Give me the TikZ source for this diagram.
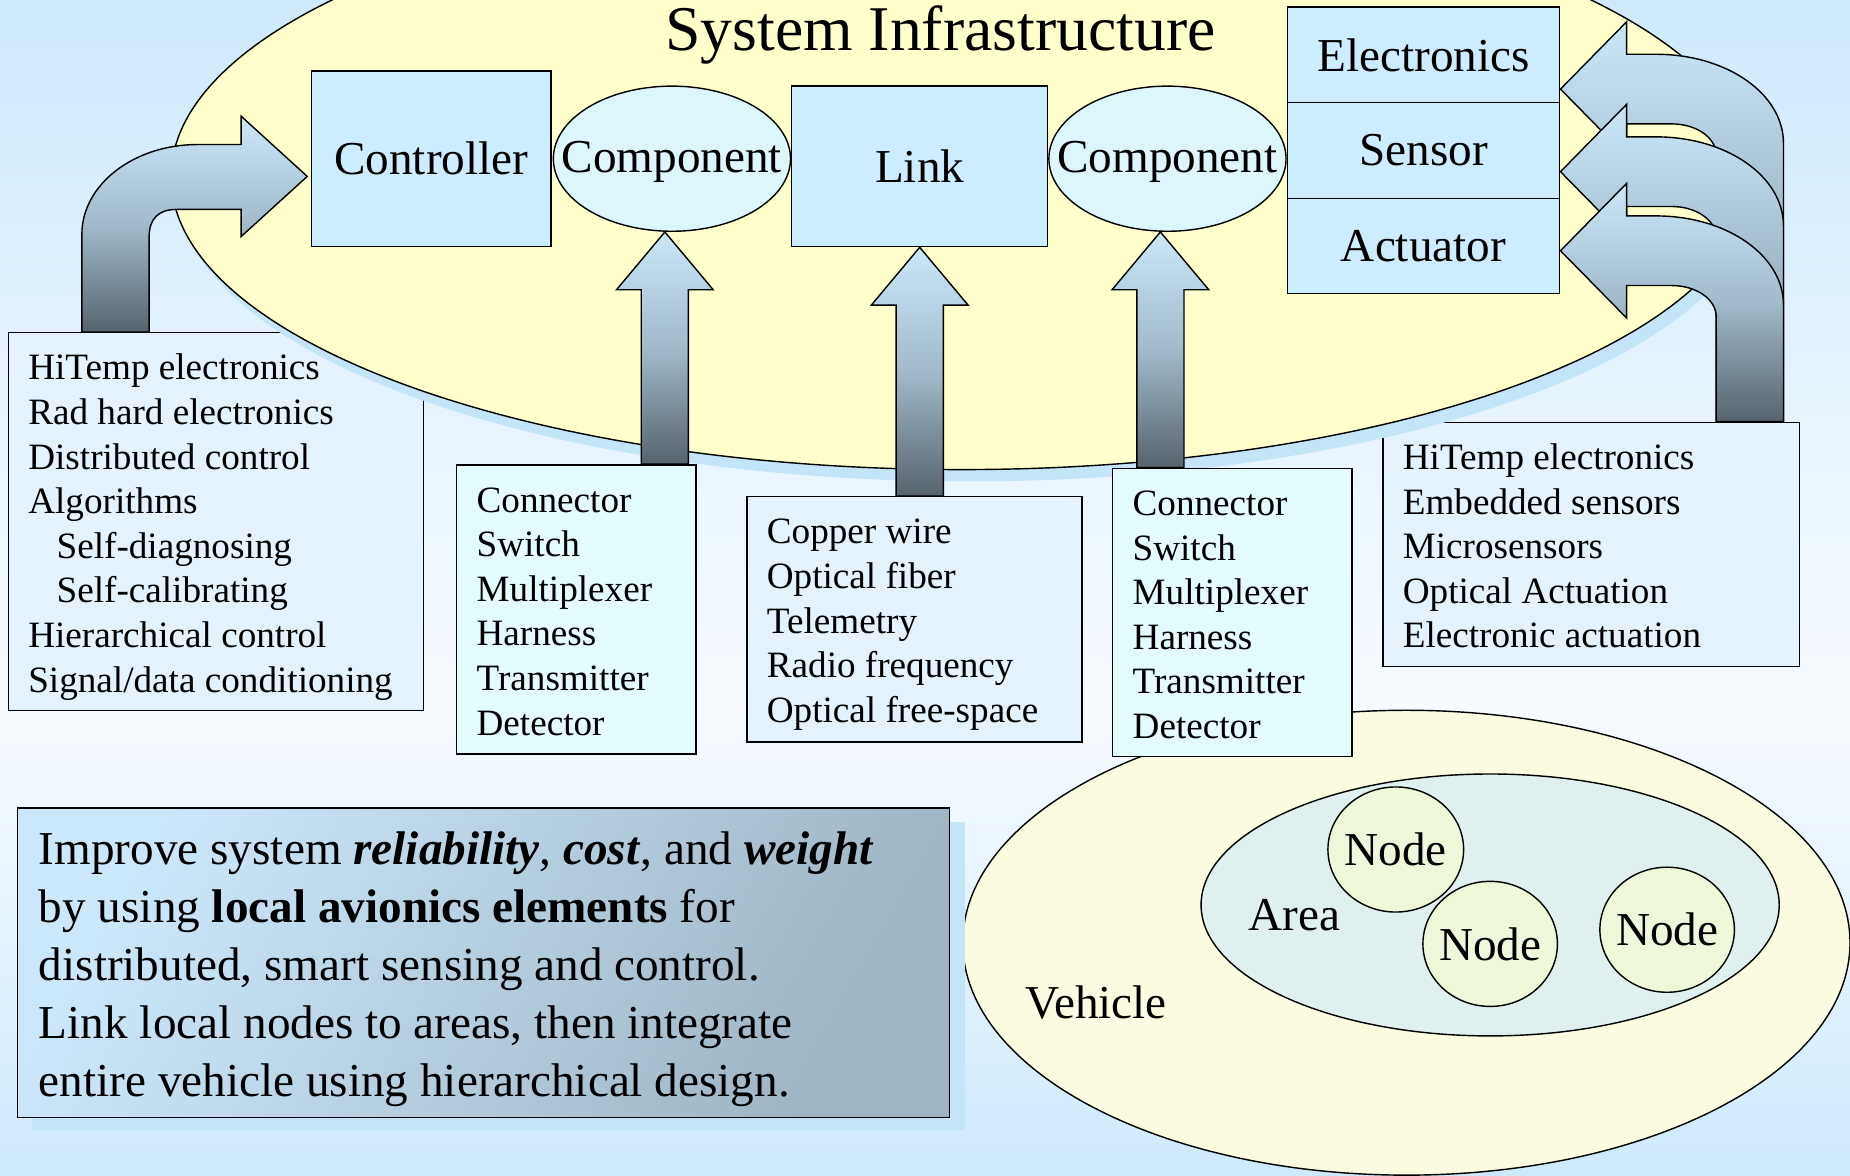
\documentclass[tikz,border=0pt]{standalone}
\usepackage{fontspec}
\setmainfont{Liberation Serif}
\usetikzlibrary{shapes.geometric,calc}

\definecolor{bgblue}{HTML}{CFE9FB}
\definecolor{bgwhite}{HTML}{F7FBFF}
\definecolor{ellyellow}{HTML}{FFFFCC}
\definecolor{shadowblue}{HTML}{C4E4F8}
\definecolor{boxblue}{HTML}{CCECFF}
\definecolor{compcyan}{HTML}{DDF6FC}
\definecolor{listblue}{HTML}{E3F2FD}
\definecolor{listcyan}{HTML}{E3FBFC}
\definecolor{arrtop}{HTML}{CBE7F9}
\definecolor{arrmid}{HTML}{A2BACA}
\definecolor{arrbot}{HTML}{56636D}
\definecolor{vehfill}{HTML}{FAFBE1}
\definecolor{areafill}{HTML}{E0F0EE}
\definecolor{nodefill}{HTML}{EFF7DA}
\definecolor{goallight}{HTML}{CBE8FA}
\definecolor{goaldark}{HTML}{9FB4C3}

\tikzset{
  bigtxt/.style={font=\fontsize{40}{48}\selectfont},
  plainbox/.style={draw, rectangle, inner sep=0pt, fill=boxblue},
  ellnode/.style={draw, ellipse, inner sep=0pt},
  listbox/.style={draw, rectangle, inner sep=0pt},
  lst/.style={anchor=north west, inner sep=0pt, align=left, font=\fontsize{31.5}{37.8}\selectfont},
  goaltxt/.style={anchor=north west, inner sep=0pt, align=left, font=\fontsize{40}{49}\selectfont},
  blockarr/.style={draw, top color=arrtop, bottom color=arrbot, middle color=arrmid},
}

\newcommand{\uparrowshape}[2]{%
  \draw[blockarr] (#1) -- ($(#1)+(41,49)$) -- ($(#1)+(20,49)$) -- ($(#1|-#2)+(20,0)$)
    -- ($(#1|-#2)+(-20,0)$) -- ($(#1)+(-20,49)$) -- ($(#1)+(-41,49)$) -- cycle;}

\newcommand{\rbentarrow}[2]{%
  \draw[blockarr] (#1) -- ($(#1)+(56,-57)$) -- ($(#1)+(56,-29.5)$) -- ($(#1)+(81,-29.5)$)
    .. controls ($(#1)+(141,-29.5)$) and ($(#1)+(189,4)$) .. ($(#1)+(189,46)$)
    -- ($(#1|-#2)+(189,0)$) -- ($(#1|-#2)+(132,0)$) -- ($(#1)+(132,56)$)
    .. controls ($(#1)+(132,41)$) and ($(#1)+(115,29.5)$) .. ($(#1)+(94,29.5)$)
    -- ($(#1)+(56,29.5)$) -- ($(#1)+(56,57)$) -- cycle;}

\begin{document}
\begin{tikzpicture}[x=1pt,y=-1pt,line width=1.2pt]
% background
\fill[top color=bgblue, bottom color=bgwhite] (0,0) rectangle (1568,600);
\fill[top color=bgwhite, bottom color=bgblue] (0,600) rectangle (1568,996);
\useasboundingbox (0,0) rectangle (1568,996);

% list boxes partly covered by the big ellipse
\node[listbox, fill=listblue, minimum width=352pt, minimum height=320pt] (box1) at (183,442) {};
\node[lst] (txt1) at ($(box1.north west)+(17,16)$) {\rule{0pt}{24pt}HiTemp electronics\\Rad hard electronics\\Distributed control\\Algorithms\\\hspace*{24pt}Self-diagnosing\\\hspace*{24pt}Self-calibrating\\Hierarchical control\\Signal/data conditioning};

\node[listbox, fill=listblue, minimum width=353pt, minimum height=207pt] (box5) at (1348.5,461.5) {};
\node[lst] (txt5) at ($(box5.north west)+(17,16)$) {\rule{0pt}{24pt}HiTemp electronics\\Embedded sensors\\Microsensors\\Optical Actuation\\Electronic actuation};

% vehicle hierarchy
\node[ellnode, fill=vehfill, minimum width=752pt, minimum height=394pt] (veh) at (1192,799) {};
\node[ellnode, fill=areafill, minimum width=490pt, minimum height=222pt] (area) at (1263,767) {};
\node[ellnode, fill=nodefill, minimum width=115pt, minimum height=106pt, label={[bigtxt]center:Node}] (n1) at (1183,720) {};
\node[ellnode, fill=nodefill, minimum width=114pt, minimum height=106pt, label={[bigtxt]center:Node}] (n2) at (1263,800) {};
\node[ellnode, fill=nodefill, minimum width=114pt, minimum height=106pt, label={[bigtxt]center:Node}] (n3) at (1413,788) {};
\node[bigtxt] (arealbl) at (1097,776) {Area};
\node[bigtxt] (vehlbl) at (929,850) {Vehicle};

% system infrastructure ellipse
\fill[shadowblue] (821,160) ellipse [x radius=670pt, y radius=248pt];
\node[ellnode, fill=ellyellow, minimum width=1340pt, minimum height=496pt] (sysell) at (815,150) {};
\node[font=\fontsize{54}{60}\selectfont] (title) at (797,30) {System Infrastructure};

\node[plainbox, minimum width=203pt, minimum height=149pt, bigtxt] (ctrl) at (365.5,134.5) {Controller};
\node[ellnode, fill=compcyan, minimum width=201pt, minimum height=123pt, label={[bigtxt, yshift=-3pt]center:Component}] (comp1) at (569.5,134.5) {};
\node[plainbox, minimum width=217pt, minimum height=136pt, bigtxt] (link) at (779.5,141) {Link};
\node[ellnode, fill=compcyan, minimum width=201pt, minimum height=123pt, label={[bigtxt, yshift=-3pt]center:Component}] (comp2) at (989.5,134.5) {};
\node[plainbox, minimum width=231pt, minimum height=81pt, bigtxt] (elec) at (1206.5,46.5) {Electronics};
\node[plainbox, minimum width=231pt, minimum height=81pt, bigtxt] (sens) at (1206.5,127.5) {Sensor};
\node[plainbox, minimum width=231pt, minimum height=81pt, bigtxt] (act) at (1206.5,208.5) {Actuator};

% lower list boxes
\node[listbox, fill=listcyan, minimum width=203pt, minimum height=245pt] (box2) at (488.5,516.5) {};
\node[lst] (txt2) at ($(box2.north west)+(17,16)$) {\rule{0pt}{24pt}Connector\\Switch\\Multiplexer\\Harness\\Transmitter\\Detector};
\node[listbox, fill=listblue, minimum width=284pt, minimum height=208pt] (box3) at (775,525) {};
\node[lst] (txt3) at ($(box3.north west)+(17,16)$) {\rule{0pt}{24pt}Copper wire\\Optical fiber\\Telemetry\\Radio frequency\\Optical free-space};
\node[listbox, fill=listcyan, minimum width=203pt, minimum height=244pt] (box4) at (1044.5,519) {};
\node[lst] (txt4) at ($(box4.north west)+(17,16)$) {\rule{0pt}{24pt}Connector\\Switch\\Multiplexer\\Harness\\Transmitter\\Detector};

% block arrows
\coordinate (u1) at ($(comp1.south)+(-6,0)$);
\coordinate (u2) at (link.south);
\coordinate (u3) at ($(comp2.south)+(-6,0)$);
\uparrowshape{u1}{box2.north}
\uparrowshape{u2}{box3.north}
\uparrowshape{u3}{box4.north}

\coordinate (r1) at ($(elec.east)+(0,29)$);
\coordinate (r2) at ($(sens.east)+(0,18)$);
\coordinate (r3) at ($(act.east)+(0,4)$);
\rbentarrow{r1}{box5.north}
\rbentarrow{r2}{box5.north}
\rbentarrow{r3}{box5.north}

\coordinate (lt) at ($(ctrl.west)+(-3,15)$);
\draw[blockarr] (lt) -- ($(lt)+(-56,-51)$) -- ($(lt)+(-56,-27)$) -- ($(lt)+(-93,-27)$)
  .. controls ($(lt)+(-147,-27)$) and ($(lt)+(-191,7)$) .. ($(lt)+(-191,49)$)
  -- ($(lt|-box1.north)+(-191,0)$) -- ($(lt|-box1.north)+(-134,0)$) -- ($(lt)+(-134,51)$)
  .. controls ($(lt)+(-134,36)$) and ($(lt)+(-126,28)$) .. ($(lt)+(-111,28)$)
  -- ($(lt)+(-56,28)$) -- ($(lt)+(-56,51)$) -- cycle;

% goal statement
\fill[shadowblue] (27,697) rectangle (818,958);
\node[draw, rectangle, inner sep=0pt, minimum width=790pt, minimum height=262pt,
  top color=goallight, bottom color=goaldark, shading angle=60] (goal) at (410,816) {};
\node[goaltxt] (goalt) at ($(goal.north west)+(18,18)$) {\rule{0pt}{30pt}Improve system \textbf{\textit{reliability}}, \textbf{\textit{cost}}, and \textbf{\textit{weight}}\\by using \textbf{local avionics elements} for\\distributed, smart sensing and control.\\Link local nodes to areas, then integrate\\entire vehicle using hierarchical design.};
\end{tikzpicture}
\end{document}
